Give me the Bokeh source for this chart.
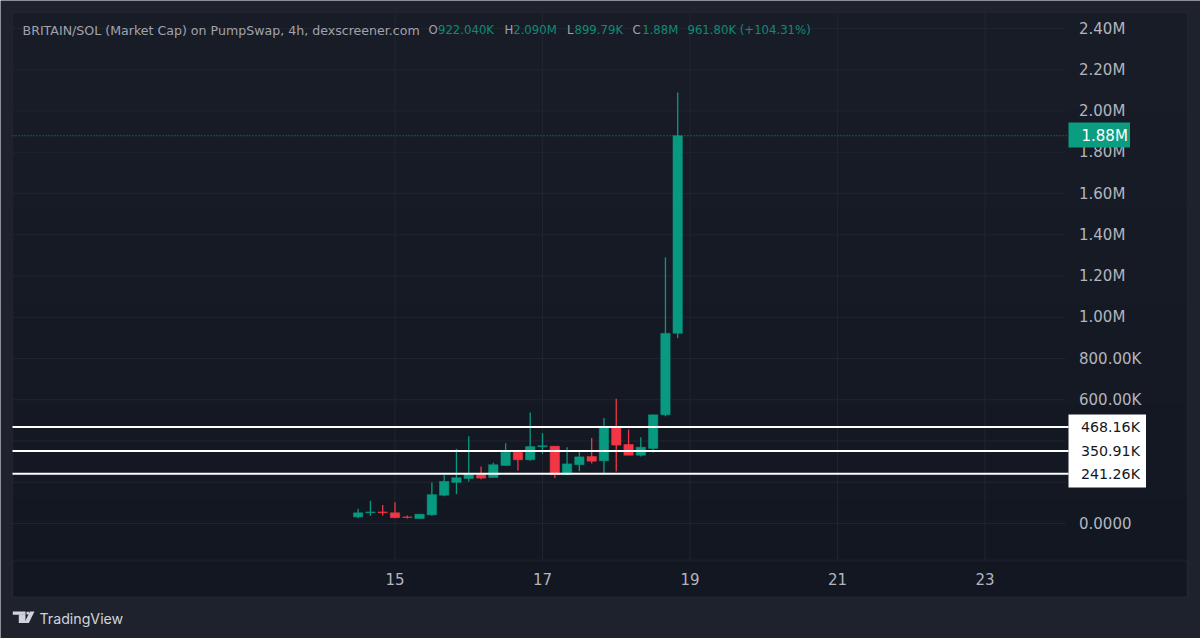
from bokeh.embed import file_html
from bokeh.models import BoxAnnotation, ColumnDataSource, FixedTicker, Label, PolyAnnotation
from bokeh.plotting import figure
from bokeh.resources import INLINE

# ---- data (market cap in thousands, x in day of month) ----
days = [14.5, 14.667, 14.833, 15.0, 15.167, 15.333, 15.5, 15.667, 15.833, 16.0, 16.167, 16.333,
        16.5, 16.667, 16.833, 17.0, 17.167, 17.333, 17.5, 17.667, 17.833, 18.0, 18.167, 18.333,
        18.5, 18.667, 18.833]
opens = [32, 52, 56, 52, 32, 24, 42, 137, 199, 218, 238, 223,
         281, 346, 309, 372, 375, 237, 285, 325, 304, 470, 383, 331,
         364, 527, 922.04]
closes = [52, 56, 52, 28, 29, 45, 140, 204, 222, 238, 220, 285,
          346, 309, 373, 377, 237, 289, 323, 302, 470, 380, 331, 370,
          527, 922, 1880]
highs = [71, 110, 90, 103, 39, 45, 199, 234, 362, 423, 276, 295,
         389, 346, 538, 438, 375, 370, 349, 415, 512, 605, 456, 418,
         527, 1290, 2090]
lows = [26, 37, 39, 28, 24, 24, 37, 132, 142, 204, 215, 223,
        281, 257, 304, 338, 221, 237, 253, 291, 238, 252, 331, 325,
        344, 520, 899.79]
price_ticks = [0, 200, 400, 600, 800, 1000, 1200, 1400, 1600, 1800, 2000, 2200, 2400]
price_labels = ["0.0000", "200.00K", "400.00K", "600.00K", "800.00K", "1.00M", "1.20M",
                "1.40M", "1.60M", "1.80M", "2.00M", "2.20M", "2.40M"]
day_ticks = [15, 17, 19, 21, 23]
level_values = [468.16, 350.91, 241.26]
level_labels = ["468.16K", "350.91K", "241.26K"]
last_close = 1880
last_label = "1.88M"
title_text = "BRITAIN/SOL (Market Cap) on PumpSwap, 4h, dexscreener.com"

# ---- colours ----
PAGE = "#1e222d"
GREEN = "#089981"
LEGEND_GREEN = "#0f8a75"
RED = "#f23645"
GRID = "#20242f"
EDGE = "#2a2e39"
TEXT = "#b2b5be"
LEGEND_TEXT = "#a0a3ad"
GRAD = ["#181c27", "#171b26", "#161a25", "#151924", "#141823", "#131722"]

# ---- page-pixel <-> data helpers for the chrome ----
PX_DAY = 73.75
PX_K = 41.25 / 200


def X(px):
    return 15 + (px - 394.5) / PX_DAY


def Y(py):
    return (523 - py) / PX_K


p = figure(width=1200, height=638, output_backend="svg", toolbar_location=None,
           x_range=(X(0), X(1200)), y_range=(Y(638), Y(0)), y_axis_location="right",
           min_border=0, border_fill_color=PAGE, background_fill_color=PAGE, outline_line_color=None)

# pane background (vertical gradient in bands)
top = 12
for i, c in enumerate(GRAD):
    bot = 12 + (597 - 12) * (i + 1) / len(GRAD)
    p.add_layout(BoxAnnotation(left=X(12), right=X(1187), top=Y(top), bottom=Y(bot), fill_color=c,
                               fill_alpha=1, line_alpha=0, level="image"))
    top = bot
p.add_layout(BoxAnnotation(left=X(12), right=X(1187), top=Y(12), bottom=Y(597), fill_alpha=0,
                           line_color=EDGE, line_width=2, level="image"))
p.add_layout(BoxAnnotation(left=X(12), right=X(1187), top=Y(560), bottom=Y(597), fill_alpha=0,
                           line_color=EDGE, line_width=2, level="image"))

# axes, pinned inside the full-page frame
p.grid.visible = False
p.yaxis.fixed_location = X(1070.5)
p.xaxis.fixed_location = Y(564)
p.yaxis.ticker = FixedTicker(ticks=price_ticks)
p.yaxis.major_label_overrides = {float(t): s for t, s in zip(price_ticks, price_labels)}
p.xaxis.ticker = FixedTicker(ticks=day_ticks)
for ax in (p.xaxis, p.yaxis):
    ax.axis_line_color = None
    ax.major_tick_line_color = None
    ax.minor_tick_line_color = None
    ax.major_label_text_color = TEXT
    ax.major_label_text_font = "DejaVu Sans"
    ax.major_label_text_font_size = "15px"
    ax.major_label_standoff = 2

# grid lines
p.segment([X(12)] * len(price_ticks), price_ticks, [X(1065)] * len(price_ticks), price_ticks,
          line_color=GRID, line_width=1)
p.segment(day_ticks, [Y(12)] * len(day_ticks), day_ticks, [Y(560)] * len(day_ticks),
          line_color=GRID, line_width=1)

# candles
colors = [GREEN if c >= o else RED for o, c in zip(opens, closes)]
src = ColumnDataSource(dict(x=days, o=opens, c=closes, h=highs, l=lows, color=colors))
p.segment("x", "h", "x", "l", source=src, line_color="color", line_width=1.3)
p.vbar("x", top="o", bottom="c", width=9.4 / PX_DAY, source=src, fill_color="color", line_color="color",
       line_width=0.5)

# horizontal levels
p.segment([X(12)] * len(level_values), level_values, [X(1068)] * len(level_values), level_values,
          line_color="#ffffff", line_width=2)
p.segment([X(12)], [last_close], [X(1068)], [last_close], line_color=GREEN, line_width=1.2, line_dash="1 2")

# price tags
p.add_layout(BoxAnnotation(left=X(1068), right=X(1145.5), top=Y(414), bottom=Y(487), fill_color="#ffffff",
                           fill_alpha=1, line_alpha=0, level="annotation"))
for v, s in zip(level_values, level_labels):
    p.add_layout(Label(x=X(1080.5), y=v, text=s, text_color="#131722", text_font="DejaVu Sans",
                       text_font_size="14.2px", text_baseline="middle"))
p.add_layout(BoxAnnotation(left=X(1068), right=X(1129.5), top=Y(122), bottom=Y(147), fill_color="#0b9d80",
                           fill_alpha=1, line_alpha=0, level="annotation"))
p.add_layout(Label(x=X(1081), y=last_close, text=last_label, text_color="#ffffff", text_font="DejaVu Sans",
                   text_font_size="15px", text_baseline="middle"))

# legend line
p.add_layout(Label(x=X(22), y=Y(29.5), text=title_text, text_color=LEGEND_TEXT, text_font="DejaVu Sans",
                   text_font_size="12.6px", text_baseline="middle"))
legend_parts = [(428, "O", LEGEND_TEXT), (437.5, "922.040K", LEGEND_GREEN), (504, "H", LEGEND_TEXT),
                (512.7, "2.090M", LEGEND_GREEN), (566.5, "L", LEGEND_TEXT), (574, "899.79K", LEGEND_GREEN),
                (632, "C", LEGEND_TEXT), (641.7, "1.88M", LEGEND_GREEN),
                (687, "961.80K (+104.31%)", LEGEND_GREEN)]
for px, s, col in legend_parts:
    p.add_layout(Label(x=X(px), y=Y(29.5), text=s, text_color=col, text_font="DejaVu Sans",
                       text_font_size="11.7px", text_baseline="middle"))

# TradingView logo + wordmark
p.add_layout(BoxAnnotation(left=X(12.3), right=X(25), top=Y(611), bottom=Y(614.2), fill_color="#d1d4dc",
                           fill_alpha=1, line_alpha=0))
p.add_layout(BoxAnnotation(left=X(18.3), right=X(25), top=Y(614), bottom=Y(622.5), fill_color="#d1d4dc",
                           fill_alpha=1, line_alpha=0))
p.add_layout(BoxAnnotation(left=X(26), right=X(28.7), top=Y(611.3), bottom=Y(614), fill_color="#d1d4dc",
                           fill_alpha=1, line_alpha=0))
p.add_layout(PolyAnnotation(xs=[X(29.5), X(34), X(28.3), X(23.8)], ys=[Y(611), Y(611), Y(622.5), Y(622.5)],
                            fill_color="#d1d4dc", fill_alpha=1, line_alpha=0))
p.add_layout(Label(x=X(39), y=Y(618), text="TradingView", text_color="#d1d4dc", text_font="Inter",
                   text_font_size="14.2px", text_baseline="middle"))

open("out.html", "w").write(file_html(p, INLINE))
